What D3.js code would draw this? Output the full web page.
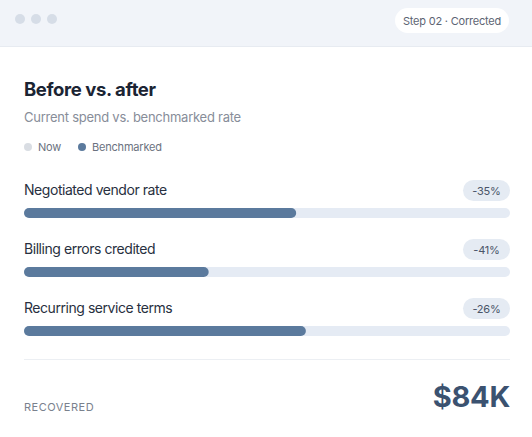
<!DOCTYPE html>
<html>
<head>
<meta charset="utf-8">
<script src="https://cdn.jsdelivr.net/npm/d3@7"></script>
<style>
  html, body { margin: 0; padding: 0; background: #ffffff; }
  svg { display: block; font-family: Inter, "Noto Sans", sans-serif; }
</style>
</head>
<body>
<div id="chart"></div>
<script>
// data
var categories = ['Negotiated vendor rate', 'Billing errors credited', 'Recurring service terms'];
var nowValues = [100, 100, 100];
var benchValues = [56, 38, 58];
var changeLabels = ['-35%', '-41%', '-26%'];
var legendLabels = ['Now', 'Benchmarked'];
var recoveredLabel = '$84K';

var width = 532;
var height = 437;
var left = 24;
var right = 510;

var svg = d3.select('#chart').append('svg')
    .attr('width', width)
    .attr('height', height);

// header strip
svg.append('rect')
    .attr('x', 0).attr('y', 0)
    .attr('width', width).attr('height', 46)
    .attr('fill', '#f1f4f9');
svg.append('line')
    .attr('x1', 0).attr('x2', width)
    .attr('y1', 46.5).attr('y2', 46.5)
    .attr('stroke', '#e7ebf1');

svg.selectAll('circle.dot')
    .data([20, 36, 52])
    .enter()
    .append('circle')
    .attr('class', 'dot')
    .attr('cx', function (d) { return d; })
    .attr('cy', 19)
    .attr('r', 5)
    .attr('fill', '#d6dde7');

svg.append('rect')
    .attr('x', 395).attr('y', 8)
    .attr('width', 114).attr('height', 25)
    .attr('rx', 12.5)
    .attr('fill', '#ffffff');
svg.append('text')
    .attr('x', 452).attr('y', 24.5)
    .attr('text-anchor', 'middle')
    .attr('font-size', 11)
    .attr('letter-spacing', -0.2)
    .attr('fill', '#5d6473')
    .text('Step 02 \u00b7 Corrected');

// title block
svg.append('text')
    .attr('x', left).attr('y', 96)
    .attr('font-size', 18.5)
    .attr('font-weight', 700)
    .attr('letter-spacing', -0.4)
    .attr('fill', '#1b2433')
    .text('Before vs. after');
svg.append('text')
    .attr('x', left).attr('y', 122)
    .attr('font-size', 13)
    .attr('letter-spacing', -0.25)
    .attr('fill', '#878d99')
    .text('Current spend vs. benchmarked rate');

// legend
var legendColors = ['#d9dde3', '#5b7a9d'];
var legendX = [28, 82];
var legend = svg.selectAll('g.legend')
    .data(legendLabels)
    .enter()
    .append('g')
    .attr('class', 'legend')
    .attr('transform', function (d, i) { return 'translate(' + legendX[i] + ',147)'; });
legend.append('circle')
    .attr('r', 4)
    .attr('fill', function (d, i) { return legendColors[i]; });
legend.append('text')
    .attr('x', 10).attr('y', 4)
    .attr('font-size', 11)
    .attr('letter-spacing', -0.2)
    .attr('fill', '#6b7280')
    .text(function (d) { return d; });

// bars
var x = d3.scaleLinear()
    .domain([0, 100])
    .range([left, right]);

var rowY = d3.scaleBand()
    .domain(categories)
    .range([178, 355])
    .paddingInner(0);

var barH = 10;

var rows = svg.selectAll('g.row')
    .data(categories)
    .enter()
    .append('g')
    .attr('class', 'row')
    .attr('transform', function (d) { return 'translate(0,' + rowY(d) + ')'; });

rows.append('text')
    .attr('x', left).attr('y', 17)
    .attr('font-size', 14)
    .attr('letter-spacing', -0.45)
    .attr('fill', '#283040')
    .text(function (d) { return d; });

// change badge
rows.append('rect')
    .attr('x', right - 47).attr('y', 2)
    .attr('width', 47).attr('height', 21)
    .attr('rx', 10.5)
    .attr('fill', '#e5ebf3');
rows.append('text')
    .attr('x', right - 23.5).attr('y', 16.5)
    .attr('text-anchor', 'middle')
    .attr('font-size', 11)
    .attr('letter-spacing', -0.2)
    .attr('fill', '#4a5568')
    .text(function (d, i) { return changeLabels[i]; });

rows.append('rect')
    .attr('class', 'track')
    .attr('x', x(0)).attr('y', 30)
    .attr('width', function (d, i) { return x(nowValues[i]) - x(0); })
    .attr('height', barH)
    .attr('rx', barH / 2)
    .attr('fill', '#e5ebf4');

rows.append('rect')
    .attr('class', 'bench')
    .attr('x', x(0)).attr('y', 30)
    .attr('width', function (d, i) { return x(benchValues[i]) - x(0); })
    .attr('height', barH)
    .attr('rx', barH / 2)
    .attr('fill', '#5b7a9d');

// footer
svg.append('line')
    .attr('x1', left).attr('x2', right)
    .attr('y1', 359.5).attr('y2', 359.5)
    .attr('stroke', '#eceff3');

svg.append('text')
    .attr('x', left).attr('y', 411)
    .attr('font-size', 11)
    .attr('letter-spacing', 0.5)
    .attr('fill', '#7a818d')
    .text('RECOVERED');

svg.append('text')
    .attr('x', right).attr('y', 407)
    .attr('text-anchor', 'end')
    .attr('font-size', 29)
    .attr('font-weight', 700)
    .attr('letter-spacing', -0.3)
    .attr('fill', '#3b5270')
    .text(recoveredLabel);
</script>
</body>
</html>
